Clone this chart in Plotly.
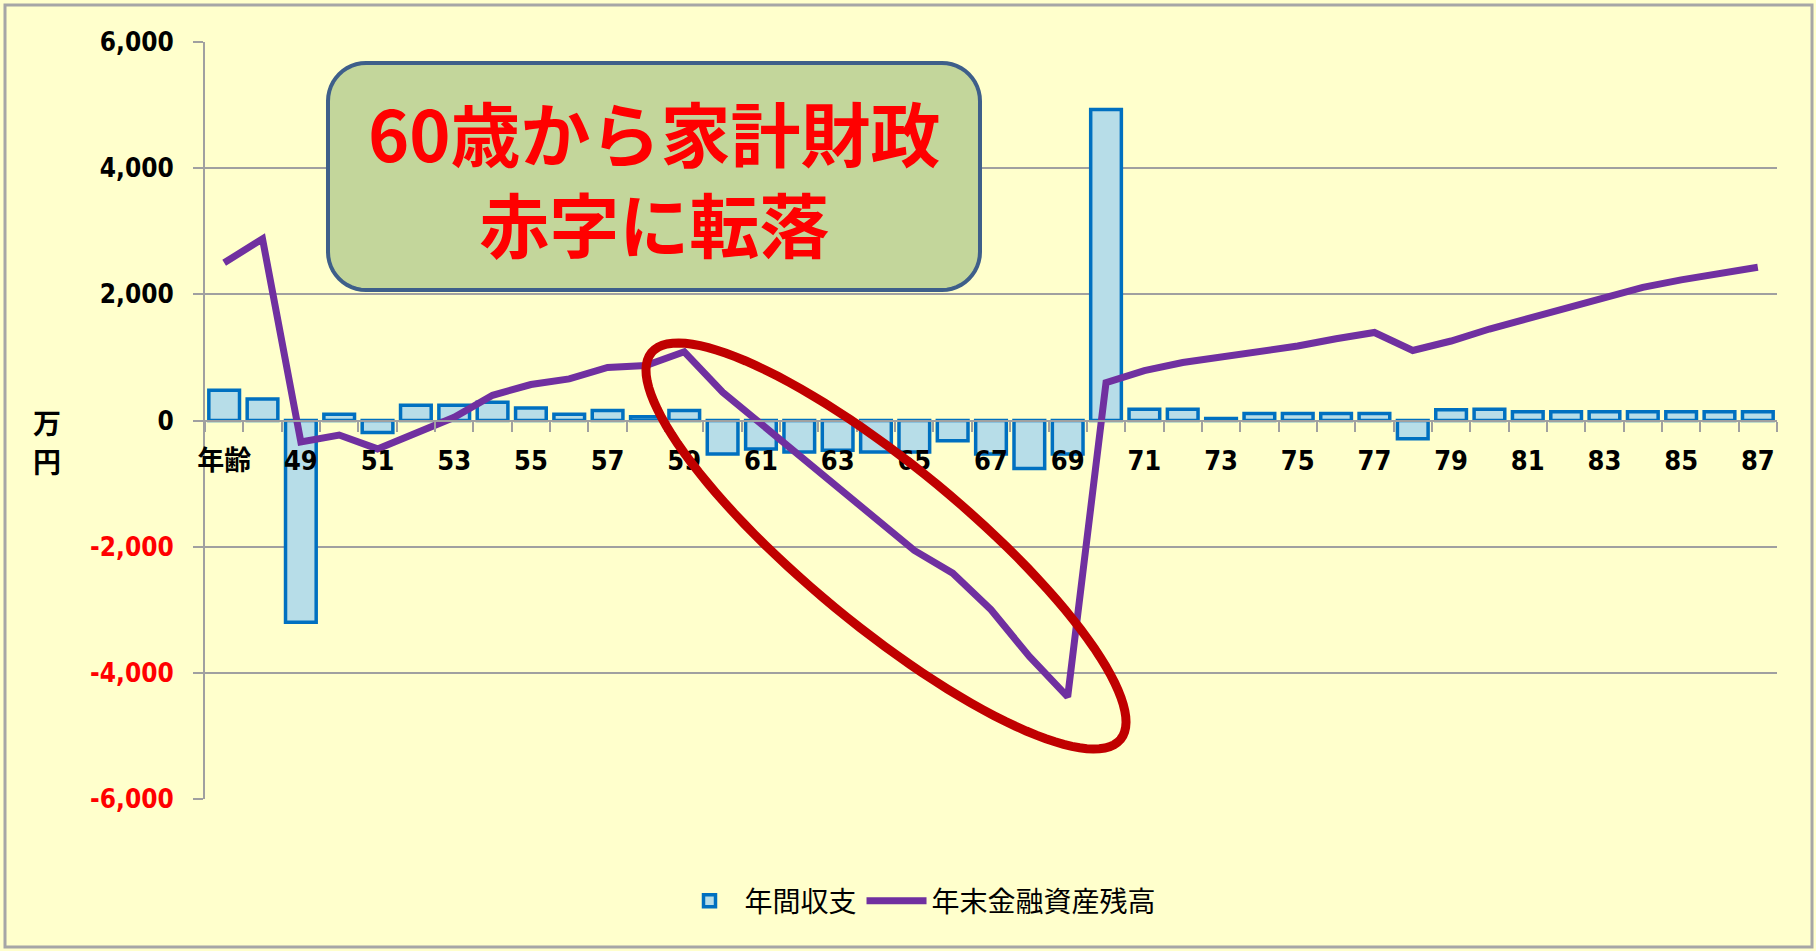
import math
import plotly.graph_objects as go

# ---- data -------------------------------------------------------------
AGES = [47, 48, 49, 50, 51, 52, 53, 54, 55, 56, 57, 58, 59, 60, 61, 62, 63,
        64, 65, 66, 67, 68, 69, 70, 71, 72, 73, 74, 75, 76, 77, 78, 79, 80,
        81, 82, 83, 84, 85, 86, 87]

# 年間収支 (万円)
ANNUAL_BALANCE = [480, 340, -3200, 100, -190, 240, 240, 290, 200, 100, 160, 60,
                  160, -530, -450, -500, -470, -500, -500, -320, -530, -760,
                  -530, 4930, 180, 180, 30, 110, 110, 110, 110, -290, 170, 180,
                  140, 140, 140, 140, 140, 140, 140]

# 年末金融資産残高 (万円)
YEAR_END_ASSETS = [2500, 2880, -340, -230, -450, -200, 50, 400, 570, 660, 840,
                   870, 1090, 450, -50, -560, -1060, -1540, -2060, -2420, -3000,
                   -3740, -4380, 600, 790, 920, 1000, 1085, 1180, 1295, 1395,
                   1110, 1260, 1450, 1620, 1790, 1950, 2110, 2230, 2330, 2430]

AGE_TICK_VALUES = [47, 49, 51, 53, 55, 57, 59, 61, 63, 65, 67, 69, 71, 73, 75,
                   77, 79, 81, 83, 85, 87]
AGE_TICK_LABELS = ["年齢", "49", "51", "53", "55", "57", "59", "61", "63", "65",
                   "67", "69", "71", "73", "75", "77", "79", "81", "83", "85",
                   "87"]

Y_TICK_VALUES = [-6000, -4000, -2000, 0, 2000, 4000, 6000]

SERIES_NAMES = ["年間収支", "年末金融資産残高"]
CALLOUT_LINES = ["60歳から家計財政", "赤字に転落"]
Y_UNIT_CHARS = ["万", "円"]

# ---- layout geometry (pixels) -----------------------------------------
FIG_W, FIG_H = 1816, 951
PLOT_L, PLOT_R, PLOT_T, PLOT_B = 205, 1777, 42, 799
PW, PH = PLOT_R - PLOT_L, PLOT_B - PLOT_T

BG = "#FFFFCC"
GRID = "#A0A0A0"
TICK_FONT = "Liberation Sans Narrow, DejaVu Sans Condensed, Liberation Sans, Noto Sans CJK JP"
CJK_FONT = "Noto Sans CJK JP, Noto Sans CJK SC, sans-serif"


def to_paper(x, y):
    """Convert a pixel position on the page into paper coordinates."""
    return (x - PLOT_L) / PW, (PLOT_B - y) / PH


def poly_path(points):
    parts = []
    for i, (x, y) in enumerate(points):
        px, py = to_paper(x, y)
        parts.append(("M" if i == 0 else "L") + f"{px:.5f},{py:.5f}")
    return " ".join(parts) + " Z"


def rounded_rect(x0, y0, x1, y1, r, n=12):
    pts = []
    corners = [(x1 - r, y0 + r, -90), (x1 - r, y1 - r, 0),
               (x0 + r, y1 - r, 90), (x0 + r, y0 + r, 180)]
    for cx, cy, start in corners:
        for k in range(n + 1):
            a = math.radians(start + 90 * k / n)
            pts.append((cx + r * math.cos(a), cy + r * math.sin(a)))
    return poly_path(pts)


def rotated_ellipse(cx, cy, a, b, angle_deg, n=120):
    t = math.radians(angle_deg)
    pts = []
    for k in range(n):
        u = 2 * math.pi * k / n
        ex, ey = a * math.cos(u), b * math.sin(u)
        pts.append((cx + ex * math.cos(t) - ey * math.sin(t),
                    cy + ex * math.sin(t) + ey * math.cos(t)))
    return poly_path(pts)


def y_label(v):
    s = f"{v:,}"
    return f'<span style="color:#FF0000">{s}</span>' if v < 0 else s


# ---- figure -----------------------------------------------------------
fig = go.Figure()

fig.add_trace(go.Bar(
    x=AGES, y=ANNUAL_BALANCE, name=SERIES_NAMES[0], width=0.8,
    marker=dict(color="#B7DDE8", line=dict(color="#0070C0", width=3.5)),
))
fig.add_trace(go.Scatter(
    x=AGES, y=YEAR_END_ASSETS, name=SERIES_NAMES[1], mode="lines",
    line=dict(color="#7030A0", width=7),
))

fig.update_layout(
    width=FIG_W, height=FIG_H,
    margin=dict(l=PLOT_L, r=FIG_W - PLOT_R, t=PLOT_T, b=FIG_H - PLOT_B),
    paper_bgcolor=BG, plot_bgcolor=BG,
    showlegend=True,
    legend=dict(
        orientation="h", x=to_paper(918, 0)[0], xanchor="center",
        y=to_paper(0, 901)[1], yanchor="middle",
        font=dict(family=CJK_FONT, size=28, color="#000000"),
        bgcolor="rgba(0,0,0,0)", itemwidth=60,
    ),
    bargap=0.2,
)

fig.update_xaxes(
    range=[46.5, 87.5], anchor="free", position=0.5,
    showgrid=False, zeroline=False,
    showline=True, linecolor=GRID, linewidth=2,
    tickmode="array", tickvals=AGE_TICK_VALUES, ticktext=AGE_TICK_LABELS,
    ticks="", ticklabelstandoff=16,
    tickfont=dict(family=TICK_FONT, size=27, color="#000000", weight="bold"),
    minor=dict(tickvals=[a - 0.5 for a in AGES] + [AGES[-1] + 0.5],
               ticks="outside", ticklen=10, tickcolor=GRID, tickwidth=2,
               showgrid=False),
)

fig.update_yaxes(
    range=[-6000, 6000], tickmode="array", tickvals=Y_TICK_VALUES,
    ticktext=[y_label(v) for v in Y_TICK_VALUES],
    showgrid=True, gridcolor=GRID, gridwidth=2, zeroline=False,
    showline=True, linecolor=GRID, linewidth=2,
    ticks="outside", ticklen=10, tickcolor=GRID, tickwidth=2,
    ticklabelstandoff=14,
    tickfont=dict(family=TICK_FONT, size=26, color="#000000", weight="bold"),
)

# frame around the whole chart
bx0, by0 = to_paper(5, 5)
bx1, by1 = to_paper(1812, 947)
fig.add_shape(type="rect", xref="paper", yref="paper",
              x0=bx0, y0=by1, x1=bx1, y1=by0,
              line=dict(color="#A6A6A6", width=3), fillcolor="rgba(0,0,0,0)",
              layer="below")

# callout box
fig.add_shape(type="path", xref="paper", yref="paper",
              path=rounded_rect(328, 63, 980, 290, 38),
              fillcolor="#C3D69B", line=dict(color="#3E5F8A", width=4),
              layer="above")

# highlight ellipse around the drawdown
fig.add_shape(type="path", xref="paper", yref="paper",
              path=rotated_ellipse(886, 546, 304, 80, 39.5),
              fillcolor="rgba(0,0,0,0)", line=dict(color="#C00000", width=9),
              layer="above")

ax, ay = to_paper(654, 177)
fig.add_annotation(xref="paper", yref="paper", x=ax, y=ay,
                   xanchor="center", yanchor="middle", showarrow=False,
                   text="<b>" + "<br>".join(CALLOUT_LINES) + "</b>",
                   font=dict(family=CJK_FONT, size=70, color="#FF0000"))

for ch, cy in zip(Y_UNIT_CHARS, [422, 461]):
    ux, uy = to_paper(47, cy)
    fig.add_annotation(xref="paper", yref="paper", x=ux, y=uy,
                       xanchor="center", yanchor="middle", showarrow=False,
                       text=f"<b>{ch}</b>",
                       font=dict(family=CJK_FONT, size=28, color="#000000"))

fig.write_html("out.html")
